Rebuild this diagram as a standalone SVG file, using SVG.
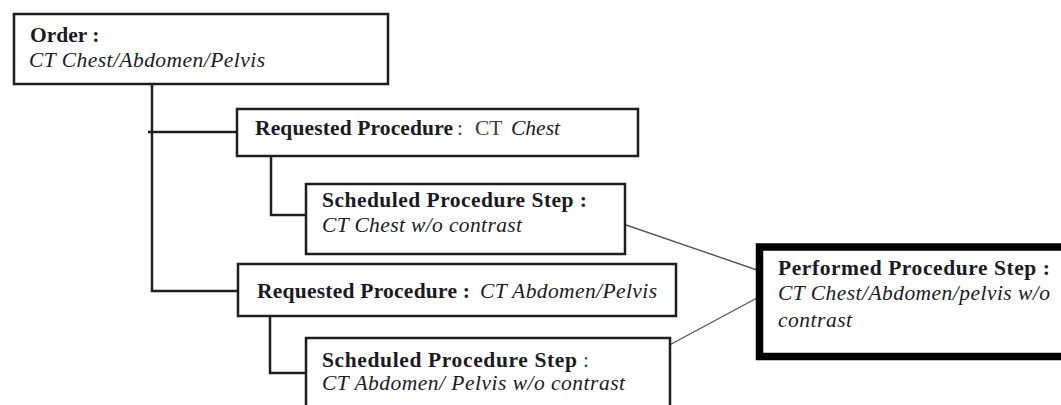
<svg xmlns="http://www.w3.org/2000/svg" width="1061" height="405" viewBox="0 0 1061 405">
  <style>
    .box { fill: #ffffff; stroke: #1e1e1e; stroke-width: 2.5; }
    .box-thick { fill: #ffffff; stroke: #000000; stroke-width: 7.5; }
    .tree { fill: none; stroke: #1e1e1e; stroke-width: 2.5; }
    .link { fill: none; stroke: #555555; stroke-width: 1.4; }
    text { font-family: "Liberation Serif", "Times New Roman", serif; font-size: 21.5px; fill: #1a1a24; }
    .b { font-weight: bold; }
    .i { font-style: italic; }
    .n { font-weight: normal; font-style: normal; fill: #3a3a46; }
  </style>
  <rect width="1061" height="405" fill="#ffffff"/>

  <!-- hierarchy lines and step links -->
  <g id="connectors">
    <path class="tree" d="M152,84 V291 H238"/>
    <path class="tree" d="M148,132 H237"/>
    <path class="tree" d="M271,156 V215 H306"/>
    <path class="tree" d="M270,316 V373 H306"/>
    <path class="link" d="M597,215 L757,270"/>
    <path class="link" d="M608,378 L757,298"/>
  </g>

  <g id="order">
    <rect class="box" x="14" y="14" width="374" height="70"/>
    <text class="b" x="30" y="42">Order :</text>
    <text class="i" x="29" y="67" textLength="236">CT Chest/Abdomen/Pelvis</text>
  </g>

  <g id="requested-procedure-1">
    <rect class="box" x="237" y="109" width="401" height="47"/>
    <text x="255" y="135"><tspan class="b" textLength="198">Requested Procedure</tspan><tspan class="n" x="457">:</tspan><tspan class="n" x="475">CT</tspan><tspan class="i" x="511">Chest</tspan></text>
  </g>

  <g id="scheduled-step-1">
    <rect class="box" x="306" y="184" width="319" height="70"/>
    <text class="b" x="322" y="207" textLength="265">Scheduled Procedure Step :</text>
    <text class="i" x="322" y="232" textLength="200">CT Chest w/o contrast</text>
  </g>

  <g id="requested-procedure-2">
    <rect class="box" x="238" y="264" width="438" height="52"/>
    <text x="257" y="298"><tspan class="b" textLength="213">Requested Procedure :</tspan><tspan class="i" x="480" textLength="177">CT Abdomen/Pelvis</tspan></text>
  </g>

  <g id="scheduled-step-2">
    <rect class="box" x="306" y="338" width="364" height="80"/>
    <text x="322" y="367"><tspan class="b" textLength="255">Scheduled Procedure Step</tspan><tspan class="n" x="583">:</tspan></text>
    <text class="i" x="322" y="390" textLength="303">CT Abdomen/ Pelvis w/o contrast</text>
  </g>

  <g id="performed-step">
    <rect class="box-thick" x="759.5" y="247" width="320" height="109.5"/>
    <text class="b" x="778" y="275" textLength="272">Performed Procedure Step :</text>
    <text class="i" x="778" y="300" textLength="272">CT Chest/Abdomen/pelvis w/o</text>
    <text class="i" x="778" y="327" textLength="74">contrast</text>
  </g>
</svg>
